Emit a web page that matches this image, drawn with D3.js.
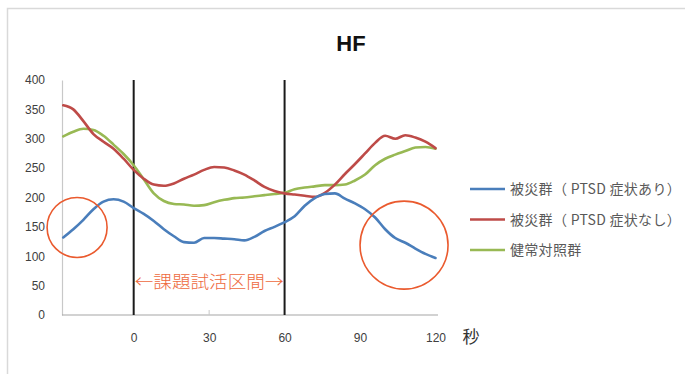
<!DOCTYPE html>
<html>
<head>
<meta charset="utf-8">
<script src="https://cdn.jsdelivr.net/npm/d3@7"></script>
<style>
  html, body { margin: 0; padding: 0; background: #fff; }
  svg { display: block; }
</style>
</head>
<body>
<svg id="chart" width="685" height="374"></svg>
<script>
// Time (seconds) relative to task onset
const seconds = [-28,-24,-20,-16,-12,-8,-4,0,4,8,12,16,20,24,28,32,36,40,44,48,52,56,60,64,68,72,76,80,84,88,92,96,100,104,108,112,116,120];

// HF power per group
const ptsdYes = [132,146,162,180,193,197,193,182,172,160,146,134,124,123,131,131,130,129,127,133,143,150,158,168,186,199,206,207,198,190,180,166,146,131,123,113,104,97];
const ptsdNo  = [357,350,330,308,295,283,266,247,232,222,220,224,232,239,247,252,251,246,239,229,218,211,207,205,203,201,208,222,240,257,275,293,305,300,306,302,295,284];
const control = [304,312,317,315,305,290,274,255,231,207,194,189,188,186,187,192,196,199,200,202,204,206,208,214,217,219,221,221,222,229,239,255,266,273,279,285,286,283];

const seriesNames = ["被災群（ PTSD 症状あり）", "被災群（ PTSD 症状なし）", "健常対照群"];
const seriesColors = ["#4a7ebb", "#be4b48", "#98b954"];
const yTicks = [0, 50, 100, 150, 200, 250, 300, 350, 400];
const xTicks = [0, 30, 60, 90, 120];
const markers = [0, 60];

const svg = d3.select("#chart");

// outer frame
svg.append("path")
  .attr("d", "M7.5,374 V8.5 H685")
  .attr("fill", "none")
  .attr("stroke", "#d9d9d9")
  .attr("stroke-width", 1.5);

const x = d3.scaleLinear().domain([-28.5, 121]).range([62, 438]);
const y = d3.scaleLinear().domain([0, 400]).range([315, 80]);

// title
svg.append("text")
  .attr("x", 351).attr("y", 51)
  .attr("text-anchor", "middle")
  .attr("font-family", "Liberation Sans, Arial, sans-serif")
  .attr("font-weight", "bold")
  .attr("font-size", 22)
  .attr("fill", "#111")
  .text("HF");

// y axis
const yAxis = svg.append("g").attr("transform", "translate(62,0)")
  .call(d3.axisLeft(y).tickValues(yTicks).tickSize(0).tickPadding(17));
yAxis.select(".domain").attr("stroke", "#c8c8c8").attr("stroke-width", 1.2);
yAxis.selectAll("text")
  .attr("font-family", "Liberation Sans, Arial, sans-serif")
  .attr("font-size", 12)
  .attr("fill", "#404040");

// x axis
const xAxis = svg.append("g").attr("transform", "translate(0,315)")
  .call(d3.axisBottom(x).tickValues(xTicks).tickSize(0).tickPadding(18));
xAxis.select(".domain").attr("stroke", "#a6a6a6").attr("stroke-width", 1.2)
  .attr("d", `M${x.range()[0]},0H${x.range()[1]}`);
xAxis.selectAll("text")
  .attr("font-family", "Liberation Sans, Arial, sans-serif")
  .attr("font-size", 12)
  .attr("fill", "#404040");
// small tick mark at 30 s
svg.append("line")
  .attr("x1", x(30)).attr("x2", x(30))
  .attr("y1", 315).attr("y2", 310)
  .attr("stroke", "#c8c8c8").attr("stroke-width", 1);

// unit label
svg.append("text")
  .attr("x", 471).attr("y", 343)
  .attr("text-anchor", "middle")
  .attr("font-family", "Noto Sans CJK JP, sans-serif")
  .attr("font-size", 17)
  .attr("fill", "#333")
  .text("秒");

// task interval markers
svg.selectAll("line.marker")
  .data(markers)
  .join("line")
  .attr("class", "marker")
  .attr("x1", d => x(d)).attr("x2", d => x(d))
  .attr("y1", y(400)).attr("y2", y(0))
  .attr("stroke", "#1a1a1a")
  .attr("stroke-width", 2);

// interval label
svg.append("text")
  .attr("x", (x(0) + x(60)) / 2).attr("y", 288)
  .attr("text-anchor", "middle")
  .attr("font-family", "Noto Sans CJK JP, sans-serif")
  .attr("font-weight", 300)
  .attr("font-size", 17)
  .attr("textLength", x(60) - x(0) - 2)
  .attr("lengthAdjust", "spacingAndGlyphs")
  .attr("fill", "#ee6a3e")
  .text("←課題試活区間→");

// series lines
const allSeries = [ptsdYes, ptsdNo, control];
const line = d3.line()
  .x((d, i) => x(seconds[i]))
  .y(d => y(d))
  .curve(d3.curveMonotoneX);

// draw green first, then red, blue on top
[2, 1, 0].forEach(k => {
  svg.append("path")
    .datum(allSeries[k])
    .attr("fill", "none")
    .attr("stroke", seriesColors[k])
    .attr("stroke-width", 2.6)
    .attr("stroke-linejoin", "round")
    .attr("stroke-linecap", "round")
    .attr("d", line);
});

// highlight circles
const circles = [
  { cx: x(-22.5), cy: y(149), r: 30 },
  { cx: x(107.5), cy: y(119), r: 44 }
];
svg.selectAll("circle.hl")
  .data(circles)
  .join("circle")
  .attr("class", "hl")
  .attr("cx", d => d.cx).attr("cy", d => d.cy).attr("r", d => d.r)
  .attr("fill", "none")
  .attr("stroke", "#ea5a2e")
  .attr("stroke-width", 1.6);

// legend
const legend = svg.append("g");
seriesNames.forEach((name, i) => {
  const ly = 189 + i * 30.5;
  legend.append("line")
    .attr("x1", 470).attr("x2", 505)
    .attr("y1", ly).attr("y2", ly)
    .attr("stroke", seriesColors[i])
    .attr("stroke-width", 2.6);
  const t = legend.append("text")
    .attr("x", 510).attr("y", ly + 5)
    .attr("font-family", "Noto Sans CJK JP, sans-serif")
    .attr("font-size", 14)
    .attr("letter-spacing", 0.3)
    .attr("fill", "#595959")
    .text(name);
  // keep each entry inside the right edge
  const w = t.node().getComputedTextLength();
  if (510 + w > 683) {
    t.attr("textLength", 683 - 510).attr("lengthAdjust", "spacingAndGlyphs");
  }
});
</script>
</body>
</html>
